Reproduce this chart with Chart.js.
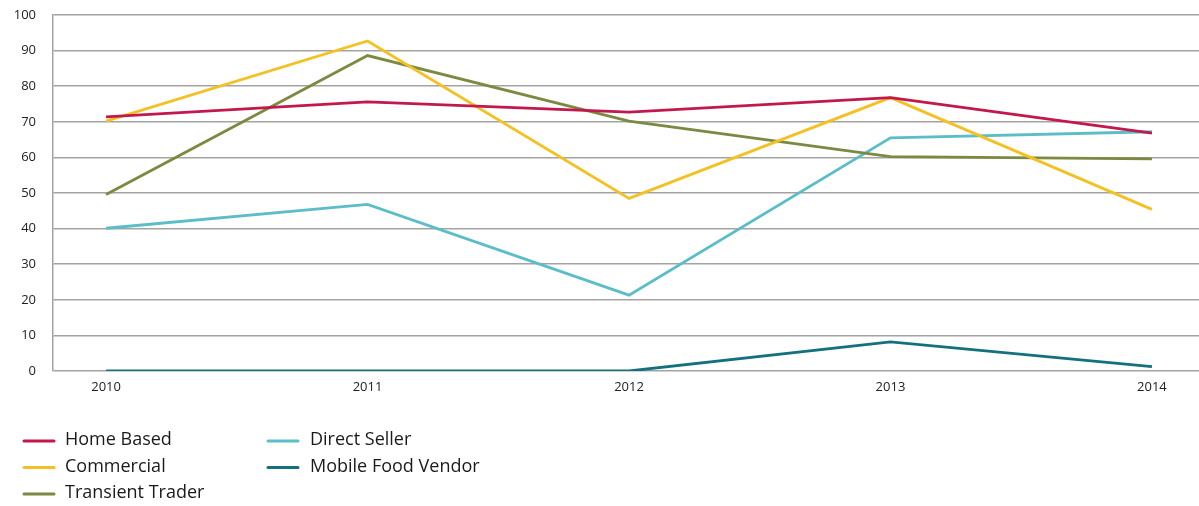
<!DOCTYPE html>
<html>
<head>
<meta charset="utf-8">
<script src="https://cdn.jsdelivr.net/npm/chart.js@4/dist/chart.umd.min.js"></script>
<style>
  html, body { margin: 0; padding: 0; background: #ffffff; }
  #wrap { position: relative; width: 1199px; height: 506px; }
</style>
</head>
<body>
<div id="wrap"><canvas id="chart" width="1199" height="506"></canvas></div>
<script>
// Years on the horizontal axis
const years = ['2010', '2011', '2012', '2013', '2014'];

// Values per permit type
const homeBased = [71.4, 75.6, 72.7, 76.8, 66.8];
const commercial = [70.2, 92.7, 48.5, 76.8, 45.4];
const transientTrader = [49.6, 88.6, 70.2, 60.2, 59.6];
const directSeller = [40.1, 46.8, 21.3, 65.5, 67.2];
const mobileFoodVendor = [0, 0, 0, 8.2, 1.2];

// Vertical axis ticks
const yTicks = [0, 10, 20, 30, 40, 50, 60, 70, 80, 90, 100];

const FONT = "'Open Sans', 'Noto Sans', sans-serif";

function series(label, values, color) {
  return {
    label: label,
    data: values.map((v, i) => ({ x: i, y: v })),
    borderColor: color,
    backgroundColor: color,
    borderWidth: 2.8,
    pointRadius: 0,
    pointHoverRadius: 0,
    tension: 0,
    fill: false
  };
}

// Two-column legend drawn under the plot
const legendColumns = {
  id: 'legendColumns',
  afterDraw(chart) {
    const ctx = chart.ctx;
    const cols = [
      { swatch: 24, text: 65, items: [0, 1, 2] },
      { swatch: 268, text: 310, items: [3, 4] }
    ];
    const rows = [440, 466.5, 493];
    ctx.save();
    ctx.font = '18px ' + FONT;
    ctx.textBaseline = 'middle';
    ctx.textAlign = 'left';
    cols.forEach(col => {
      col.items.forEach((idx, r) => {
        const ds = chart.data.datasets[idx];
        const y = rows[r];
        ctx.strokeStyle = ds.borderColor;
        ctx.lineWidth = 3;
        ctx.lineCap = 'round';
        ctx.beginPath();
        ctx.moveTo(col.swatch, y + 1);
        ctx.lineTo(col.swatch + 30, y + 1);
        ctx.stroke();
        ctx.fillStyle = '#1a1a1a';
        ctx.fillText(ds.label, col.text, y);
      });
    });
    ctx.restore();
  }
};

new Chart(document.getElementById('chart'), {
  type: 'line',
  data: {
    datasets: [
      series('Home Based', homeBased, '#c2184b'),
      series('Commercial', commercial, '#f4c123'),
      series('Transient Trader', transientTrader, '#7b8a40'),
      series('Direct Seller', directSeller, '#5bbdc7'),
      series('Mobile Food Vendor', mobileFoodVendor, '#13717e')
    ]
  },
  options: {
    responsive: false,
    animation: false,
    events: [],
    layout: { padding: { top: 15, right: 0, bottom: 105, left: 0 } },
    plugins: {
      legend: { display: false },
      tooltip: { enabled: false }
    },
    scales: {
      x: {
        type: 'linear',
        min: -0.203,
        max: 4.18,
        grid: { display: false, drawTicks: false },
        border: { display: false },
        afterBuildTicks(scale) {
          scale.ticks = years.map((_, i) => ({ value: i }));
        },
        afterFit(scale) {
          scale.height = 30;
          scale.paddingLeft = 0;
          scale.paddingRight = 0;
        },
        ticks: {
          padding: 8,
          autoSkip: false,
          maxRotation: 0,
          color: '#222222',
          font: { family: FONT, size: 13 },
          callback: v => years[v]
        }
      },
      y: {
        type: 'linear',
        min: 0,
        max: 100,
        afterBuildTicks(scale) {
          scale.ticks = yTicks.map(v => ({ value: v }));
        },
        afterFit(scale) {
          scale.width = 53;
          scale.paddingTop = 0;
          scale.paddingBottom = 0;
        },
        grid: { color: '#a3a3a3', lineWidth: 1.5, drawTicks: false },
        border: { display: true, color: '#a3a3a3', width: 1.5 },
        ticks: {
          padding: 17,
          color: '#222222',
          font: { family: FONT, size: 13 }
        }
      }
    }
  },
  plugins: [legendColumns]
});
</script>
</body>
</html>
